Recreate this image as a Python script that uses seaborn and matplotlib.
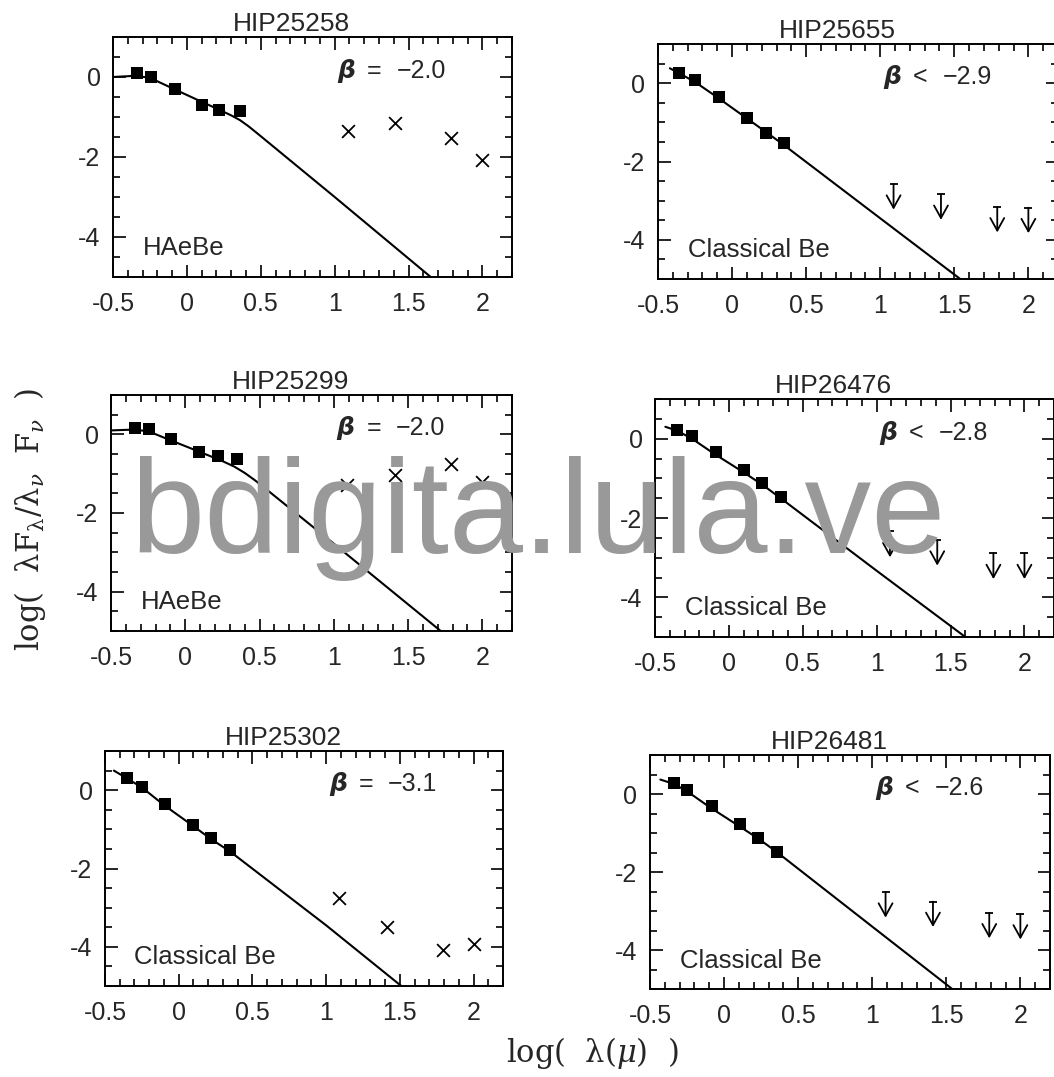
import matplotlib
matplotlib.use("Agg")
import matplotlib.pyplot as plt
import numpy as np
import pandas as pd
import seaborn as sns
from matplotlib.ticker import MultipleLocator

# ---------------- data ----------------
names = ["HIP25258", "HIP25655", "HIP25299", "HIP26476", "HIP25302", "HIP26481"]
classes = ["HAeBe", "Classical Be", "HAeBe", "Classical Be", "Classical Be", "Classical Be"]
beta_rel = ["=", "<", "=", "<", "=", "<"]
beta_val = ["\u22122.0", "\u22122.9", "\u22122.0", "\u22122.8", "\u22123.1", "\u22122.6"]

# optical / near-IR photometry (filled squares)
hip25258_opt_x = [-0.34, -0.24, -0.08, 0.10, 0.22, 0.36]
hip25258_opt_y = [0.10, 0.00, -0.31, -0.70, -0.82, -0.86]
hip25655_opt_x = [-0.36, -0.25, -0.09, 0.10, 0.23, 0.35]
hip25655_opt_y = [0.27, 0.07, -0.36, -0.90, -1.26, -1.54]
hip25299_opt_x = [-0.34, -0.245, -0.095, 0.095, 0.22, 0.35]
hip25299_opt_y = [0.17, 0.13, -0.13, -0.45, -0.54, -0.63]
hip26476_opt_x = [-0.35, -0.25, -0.09, 0.10, 0.225, 0.35]
hip26476_opt_y = [0.23, 0.06, -0.33, -0.80, -1.13, -1.46]
hip25302_opt_x = [-0.35, -0.25, -0.09, 0.095, 0.22, 0.35]
hip25302_opt_y = [0.32, 0.08, -0.36, -0.89, -1.23, -1.54]
hip26481_opt_x = [-0.34, -0.25, -0.08, 0.11, 0.23, 0.36]
hip26481_opt_y = [0.28, 0.09, -0.30, -0.78, -1.12, -1.48]

# IRAS points: detections (crosses) or upper limits (arrows)
iras_x = [1.09, 1.41, 1.79, 2.00]
hip25258_ir_y = [-1.36, -1.15, -1.52, -2.08]
hip25655_lim_y = [-2.58, -2.84, -3.16, -3.18]
hip25299_ir_y = [-1.28, -1.03, -0.75, -1.21]
hip26476_lim_y = [-2.34, -2.55, -2.89, -2.89]
hip25302_ir_y = [-2.75, -3.49, -4.08, -3.92]
hip26481_lim_y = [-2.52, -2.76, -3.05, -3.08]
arrow_len = 0.65

# photospheric model curves
hip25258_mod_x = [-0.50, -0.35, -0.25, -0.10, 0.10, 0.22, 0.30, 0.36, 0.42, 0.50, 1.00, 1.65]
hip25258_mod_y = [0.00, 0.03, -0.02, -0.28, -0.62, -0.82, -0.96, -1.08, -1.24, -1.48, -3.00, -5.00]
hip25655_mod_x = [-0.42, -0.36, -0.25, -0.10, 0.10, 0.23, 0.35, 1.00, 1.54]
hip25655_mod_y = [0.38, 0.26, 0.03, -0.36, -0.90, -1.25, -1.58, -3.45, -5.00]
hip25299_mod_x = [-0.50, -0.35, -0.25, -0.10, 0.10, 0.25, 0.33, 0.40, 0.47, 0.55, 1.00, 1.72]
hip25299_mod_y = [0.10, 0.12, 0.08, -0.15, -0.45, -0.68, -0.82, -0.98, -1.17, -1.41, -2.78, -5.00]
hip26476_mod_x = [-0.43, -0.35, -0.25, -0.10, 0.10, 0.23, 0.35, 1.00, 1.60]
hip26476_mod_y = [0.30, 0.20, 0.00, -0.38, -0.85, -1.17, -1.50, -3.33, -5.00]
hip25302_mod_x = [-0.44, -0.35, -0.25, -0.10, 0.10, 0.22, 0.35, 1.00, 1.51]
hip25302_mod_y = [0.50, 0.30, 0.07, -0.38, -0.92, -1.25, -1.57, -3.45, -5.00]
hip26481_mod_x = [-0.43, -0.34, -0.25, -0.10, 0.10, 0.23, 0.36, 1.00, 1.54]
hip26481_mod_y = [0.37, 0.26, 0.07, -0.33, -0.82, -1.14, -1.50, -3.40, -5.00]

xtick_labels = ["-0.5", "0", "0.5", "1", "1.5", "2"]
ytick_labels = ["-4", "-2", "0"]

# ---------------- style ----------------
sns.set_style("ticks")
plt.rcParams["font.family"] = ["Liberation Sans", "DejaVu Sans"]
plt.rcParams["axes.unicode_minus"] = False
plt.rcParams["mathtext.fontset"] = "dejavuserif"

W, H = 1054, 1077
fig = plt.figure(figsize=(W / 100, H / 100), dpi=100)
fig.patch.set_facecolor("white")

panels = [
    dict(box=(113, 37, 512, 277), ox=hip25258_opt_x, oy=hip25258_opt_y, ir=hip25258_ir_y, lim=None,
         mx=hip25258_mod_x, my=hip25258_mod_y),
    dict(box=(658, 44, 1058, 279), ox=hip25655_opt_x, oy=hip25655_opt_y, ir=None, lim=hip25655_lim_y,
         mx=hip25655_mod_x, my=hip25655_mod_y),
    dict(box=(111, 395, 512, 631), ox=hip25299_opt_x, oy=hip25299_opt_y, ir=hip25299_ir_y, lim=None,
         mx=hip25299_mod_x, my=hip25299_mod_y),
    dict(box=(655, 399, 1054, 637), ox=hip26476_opt_x, oy=hip26476_opt_y, ir=None, lim=hip26476_lim_y,
         mx=hip26476_mod_x, my=hip26476_mod_y),
    dict(box=(105, 751, 503, 986), ox=hip25302_opt_x, oy=hip25302_opt_y, ir=hip25302_ir_y, lim=None,
         mx=hip25302_mod_x, my=hip25302_mod_y),
    dict(box=(650, 755, 1050, 989), ox=hip26481_opt_x, oy=hip26481_opt_y, ir=None, lim=hip26481_lim_y,
         mx=hip26481_mod_x, my=hip26481_mod_y),
]

for i, p in enumerate(panels):
    l, t, r, b = p["box"]
    ax = fig.add_axes([l / W, 1 - b / H, (r - l) / W, (b - t) / H])
    ax.set_facecolor("white")

    model = pd.DataFrame({"x": p["mx"], "y": p["my"]})
    sns.lineplot(data=model, x="x", y="y", sort=False, estimator=None, color="black",
                 lw=1.5, ax=ax, zorder=2)
    opt = pd.DataFrame({"x": p["ox"], "y": p["oy"]})
    sns.scatterplot(data=opt, x="x", y="y", marker="s", s=75, color="black",
                    linewidth=0, ax=ax, zorder=3)
    if p["ir"] is not None:
        ir = pd.DataFrame({"x": iras_x, "y": p["ir"]})
        sns.scatterplot(data=ir, x="x", y="y", marker="x", s=85, color="black",
                        linewidth=1.3, ax=ax, zorder=3)
    else:
        lim = pd.DataFrame({"x": iras_x, "y": p["lim"]})
        sns.scatterplot(data=lim, x="x", y="y", marker="_", s=40, color="black",
                        linewidth=1.3, ax=ax, zorder=3)
        for xv, yv in zip(iras_x, p["lim"]):
            ax.annotate("", xy=(xv, yv - arrow_len), xytext=(xv, yv),
                        arrowprops=dict(arrowstyle="->,head_length=0.45,head_width=0.25",
                                        mutation_scale=20, lw=1.3, color="black",
                                        shrinkA=0, shrinkB=0))

    ax.set_xlim(-0.5, 2.2)
    ax.set_ylim(-5, 1)
    ax.set_xticks([-0.5, 0, 0.5, 1, 1.5, 2])
    ax.set_xticklabels(xtick_labels)
    ax.set_yticks([-4, -2, 0])
    ax.set_yticklabels(ytick_labels)
    ax.xaxis.set_minor_locator(MultipleLocator(0.1))
    ax.yaxis.set_minor_locator(MultipleLocator(0.5))
    ax.tick_params(which="both", direction="in", top=True, right=True, color="black", width=1.2)
    ax.tick_params(which="major", length=9, labelsize=18, pad=9)
    ax.tick_params(axis="x", which="major", pad=11)
    ax.tick_params(which="minor", length=5)
    ax.set_xlabel("")
    ax.set_ylabel("")
    for s in ax.spines.values():
        s.set_linewidth(1.4)
        s.set_color("black")

    # title (offset toward left like in the reference)
    ax.annotate(names[i], xy=(0.71, 1.0), xycoords=("data", "axes fraction"),
                xytext=(0, 4), textcoords="offset points", ha="center", va="baseline",
                fontsize=19)
    # beta annotation
    ax.text(1.02, 0.15, "\u03b2", fontsize=18, fontweight="bold", fontstyle="italic",
            ha="left", va="center", family=["DejaVu Sans"])
    ax.text(1.22, 0.15, beta_rel[i], fontsize=18, ha="left", va="center")
    ax.text(1.42, 0.15, beta_val[i], fontsize=18, ha="left", va="center")
    # class label
    ax.text(-0.30, -4.27, classes[i], fontsize=18.5, ha="left", va="center")

# global axis labels
fig.text(30 / W, 1 - 519 / H,
         r"log(  λF$_{\mathrm{\lambda}}$/λ$_{\nu}$  F$_{\nu}$  )",
         rotation=90, ha="center", va="center", fontsize=22, family="DejaVu Serif")
fig.text(592 / W, 1 - 1053 / H, r"log(  λ($\mu$)  )",
         ha="center", va="center", fontsize=22, family="DejaVu Serif")

# repository watermark
fig.text(130 / W, 1 - 553 / H, "bdigita.lula.ve", fontsize=96, color="#999999",
         ha="left", va="baseline", family="Liberation Sans", zorder=10)

fig.savefig("out.png", dpi=100, facecolor="white")
